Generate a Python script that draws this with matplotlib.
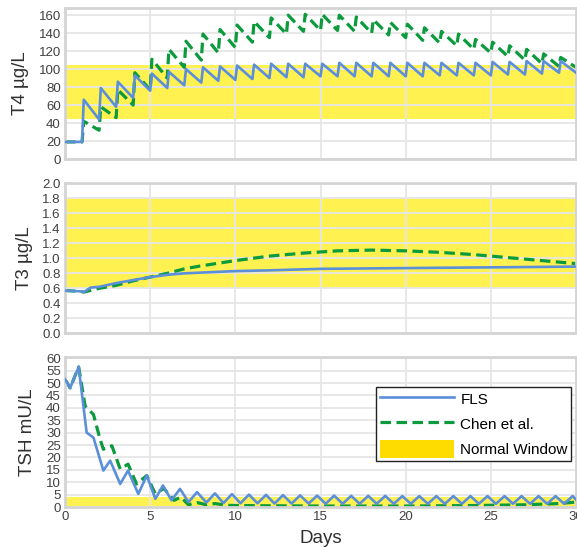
import matplotlib
matplotlib.use("Agg")
import matplotlib.pyplot as plt
from matplotlib.patches import Patch
from matplotlib.lines import Line2D

plt.rcParams['font.family'] = ['Liberation Sans', 'DejaVu Sans']

# ---- T4 (daily dosing, sawtooth) ----
t4_start = 19
t4_dose_days = list(range(1, 30))
t4_fls_peaks = [66, 79, 86, 93, 95, 97, 100, 102, 103, 104, 105, 106, 106, 106, 106,
                107, 107, 107, 107, 107, 107, 107, 107, 107, 108, 108, 109, 109, 109]
t4_fls_troughs = [44, 58, 68, 76, 79, 82, 85, 87, 88, 89, 90, 91, 91, 92, 92,
                  92, 92, 92, 92, 92, 93, 93, 93, 93, 94, 94, 95, 96, 96]
t4_chen_peaks = [42, 58, 77, 96, 111, 122, 131, 139, 144, 149, 153, 157, 160, 161, 161,
                 160, 158, 155, 152, 150, 146, 142, 139, 133, 130, 126, 122, 117, 113]
t4_chen_troughs = [32, 46, 60, 77, 90, 102, 110, 118, 124, 130, 135, 139, 142, 143, 143,
                   142, 140, 138, 135, 132, 129, 126, 122, 118, 114, 110, 106, 103, 102]

# ---- T3 ----
t3_fls_days = [0, 0.9, 1.1, 1.5, 2, 3, 4, 5, 6, 7, 8, 10, 12, 15, 20, 25, 30]
t3_fls = [0.57, 0.56, 0.55, 0.61, 0.62, 0.67, 0.71, 0.75, 0.78, 0.80, 0.81, 0.83,
          0.84, 0.86, 0.87, 0.88, 0.89]
t3_chen_days = [0, 0.9, 1.1, 2, 3, 4, 5, 6, 7, 8, 10, 12, 14, 16, 18, 20, 22, 24, 26, 28, 30]
t3_chen = [0.57, 0.56, 0.55, 0.60, 0.64, 0.70, 0.75, 0.80, 0.86, 0.90, 0.97, 1.03,
           1.07, 1.10, 1.11, 1.10, 1.08, 1.05, 1.01, 0.97, 0.93]

# ---- TSH ----
tsh_fls_days = [0, 0.3, 0.8, 1.27, 1.67, 2.25, 2.65, 3.24, 3.7, 4.3, 4.8, 5.3, 5.75,
                6.25, 6.75, 7.25, 7.75, 8.3, 8.8, 9.3, 9.8, 10.3, 10.8, 11.3, 11.8,
                12.3, 12.8, 13.3, 13.8, 14.3, 14.8, 15.3, 15.8, 16.3, 16.8, 17.3, 17.8,
                18.3, 18.8, 19.3, 19.8, 20.3, 20.8, 21.3, 21.8, 22.3, 22.8, 23.3, 23.8,
                24.3, 24.8, 25.3, 25.8, 26.3, 26.8, 27.3, 27.8, 28.3, 28.8, 29.3, 29.8, 30]
tsh_fls = [51.5, 48, 56.5, 30, 28, 14.7, 18.7, 9.3, 14.7, 5.3, 12.7, 3.3, 8.7,
           2.7, 7.3, 2.0, 6.0, 1.8, 5.5, 1.6, 5.2, 1.5, 5.0, 1.5, 4.9,
           1.4, 4.8, 1.4, 4.7, 1.4, 4.6, 1.3, 4.6, 1.3, 4.5, 1.3, 4.5,
           1.3, 4.5, 1.3, 4.4, 1.3, 4.4, 1.3, 4.4, 1.3, 4.4, 1.3, 4.4,
           1.3, 4.4, 1.3, 4.4, 1.3, 4.4, 1.3, 4.4, 1.3, 4.4, 1.3, 4.4, 3.0]
tsh_chen_days = [0, 0.3, 0.8, 1.18, 1.67, 2.06, 2.25, 2.75, 3.24, 3.7, 4.2, 4.8, 5.3,
                 5.8, 6.4, 6.8, 7.25, 7.75, 8.3, 8.8, 9.5, 10, 12, 15, 20, 24, 27, 29, 30]
tsh_chen = [51.5, 48, 56.5, 40.7, 37.3, 27.3, 23.3, 24.7, 15.3, 17.3, 9.3, 12.7, 5.3,
            7.5, 2.7, 4.0, 0.9, 1.8, 0.9, 1.4, 0.7, 0.6, 0.5, 0.4, 0.4, 0.6, 0.9, 1.4, 2.0]

# normal windows
t4_window = (45, 105)
t3_window = (0.6, 1.8)
tsh_window = (0.4, 4.0)

blue = '#5b8fd9'
green = '#0b9a3c'
band = '#fff150'
legend_gold = '#ffdc00'


def sawtooth(start, dose_days, peaks, troughs):
    xs = [0, dose_days[0]]
    ys = [start, start]
    for d, p, t in zip(dose_days, peaks, troughs):
        xs += [d + 0.1, d + 1]
        ys += [p, t]
    return xs, ys


def style(ax, ylim, yticks, fmt):
    ax.set_xlim(0, 30)
    ax.set_ylim(*ylim)
    ax.set_yticks(yticks)
    ax.set_yticklabels([fmt.format(v) for v in yticks])
    ax.set_xticks(range(0, 31, 5))
    ax.grid(True, color='#e6e6e6', linewidth=1.3, zorder=0.5)
    ax.set_axisbelow(True)
    for s in ax.spines.values():
        s.set_color('#d4d4d4')
        s.set_linewidth(2)
    ax.tick_params(length=0, pad=3, labelsize=9.5, colors='#404040')


fig = plt.figure(figsize=(5.77, 5.47), dpi=100)
ax1 = fig.add_axes([0.1127, 0.7093, 0.8856, 0.2761])
ax2 = fig.add_axes([0.1127, 0.3906, 0.8856, 0.2742])
ax3 = fig.add_axes([0.1127, 0.0731, 0.8856, 0.2742])

dash = dict(linestyle=(0, (3.3, 1.7)), linewidth=2.3, color=green)
solid = dict(linewidth=1.9, color=blue)

# T4
ax1.axhspan(*t4_window, color=band, zorder=0.2, lw=0)
x, y = sawtooth(t4_start, t4_dose_days, t4_chen_peaks, t4_chen_troughs)
ax1.plot(x, y, zorder=2, **dash)
x, y = sawtooth(t4_start, t4_dose_days, t4_fls_peaks, t4_fls_troughs)
ax1.plot(x, y, zorder=3, **solid)
style(ax1, (0, 168), list(range(0, 161, 20)), '{:d}')
ax1.set_xticklabels([])
ax1.set_ylabel('T4 µg/L', fontsize=13.5, color='#303030', labelpad=7)

# T3
ax2.axhspan(*t3_window, color=band, zorder=0.2, lw=0)
ax2.plot(t3_chen_days, t3_chen, zorder=2, **dash)
ax2.plot(t3_fls_days, t3_fls, zorder=3, **solid)
style(ax2, (0, 2.0), [i / 5 for i in range(11)], '{:.1f}')
ax2.set_xticklabels([])
ax2.set_ylabel('T3 µg/L', fontsize=13.5, color='#303030', labelpad=7)

# TSH
ax3.axhspan(*tsh_window, color=band, zorder=0.2, lw=0)
ax3.plot(tsh_chen_days, tsh_chen, zorder=2, **dash)
ax3.plot(tsh_fls_days, tsh_fls, zorder=3, **solid)
style(ax3, (0, 60.5), list(range(0, 61, 5)), '{:d}')
ax3.set_ylabel('TSH mU/L', fontsize=13.5, color='#303030', labelpad=7)
ax3.set_xlabel('Days', fontsize=13.5, color='#303030', labelpad=5)

handles = [Line2D([], [], **solid),
           Line2D([], [], **dash),
           Patch(facecolor=legend_gold, edgecolor='none')]
leg = ax3.legend(handles, ['FLS', 'Chen et al.', 'Normal Window'],
                 loc='upper right', bbox_to_anchor=(0.99, 0.80), borderaxespad=0,
                 fontsize=11, handlelength=4.9, handleheight=1.45, labelspacing=0.45,
                 handletextpad=0.4, borderpad=0.2, fancybox=False, framealpha=1)
leg.get_frame().set_edgecolor('#222222')
leg.get_frame().set_linewidth(1.0)

fig.savefig('out.png', dpi=100)
